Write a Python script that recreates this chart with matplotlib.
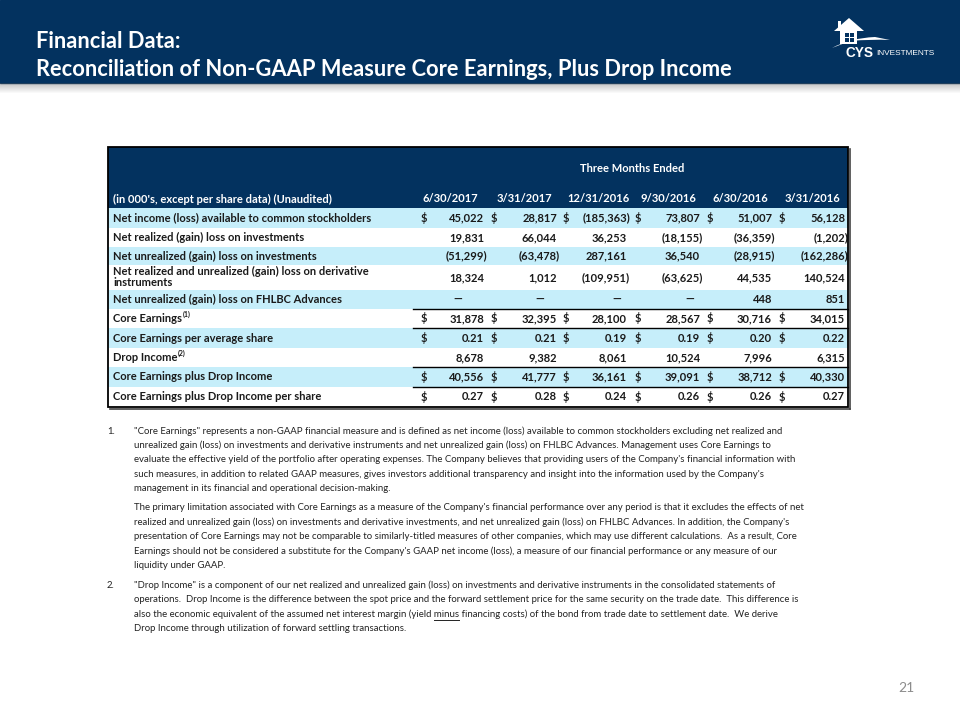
import matplotlib
matplotlib.use('Agg')
import matplotlib.pyplot as plt
from matplotlib.patches import Rectangle, Polygon, PathPatch
from matplotlib.path import Path

plt.rcParams['font.family'] = ['Lato', 'DejaVu Sans']

# ---- data ----
periods = ['6/30/2017', '3/31/2017', '12/31/2016', '9/30/2016', '6/30/2016', '3/31/2016']
row_labels = ['Net income (loss) available to common stockholders',
              'Net realized (gain) loss on investments',
              'Net unrealized (gain) loss on investments',
              'Net realized and unrealized (gain) loss on derivative\ninstruments',
              'Net unrealized (gain) loss on FHLBC Advances',
              'Core Earnings',
              'Core Earnings per average share',
              'Drop Income',
              'Core Earnings plus Drop Income',
              'Core Earnings plus Drop Income per share']
row_notes = ['', '', '', '', '', '(1)', '', '(2)', '', '']
net_income = [45022, 28817, -185363, 73807, 51007, 56128]
realized_inv = [19831, 66044, 36253, -18155, -36359, -1202]
unrealized_inv = [-51299, -63478, 287161, 36540, -28915, -162286]
derivatives = [18324, 1012, -109951, -63625, 44535, 140524]
fhlbc = [None, None, None, None, 448, 851]
core_earnings = [31878, 32395, 28100, 28567, 30716, 34015]
core_per_share = [0.21, 0.21, 0.19, 0.19, 0.20, 0.22]
drop_income = [8678, 9382, 8061, 10524, 7996, 6315]
core_plus_drop = [40556, 41777, 36161, 39091, 38712, 40330]
core_plus_drop_ps = [0.27, 0.28, 0.24, 0.26, 0.26, 0.27]
rows = [net_income, realized_inv, unrealized_inv, derivatives, fhlbc,
        core_earnings, core_per_share, drop_income, core_plus_drop, core_plus_drop_ps]
row_decimals = [0, 0, 0, 0, 0, 0, 2, 0, 0, 2]
row_dollar = [True, False, False, False, False, True, True, False, True, True]

fn1 = ['"Core Earnings" represents a non-GAAP financial measure and is defined as net income (loss) available to common stockholders excluding net realized and',
       'unrealized gain (loss) on investments and derivative instruments and net unrealized gain (loss) on FHLBC Advances. Management uses Core Earnings to',
       "evaluate the effective yield of the portfolio after operating expenses. The Company believes that providing users of the Company's financial information with",
       "such measures, in addition to related GAAP measures, gives investors additional transparency and insight into the information used by the Company's",
       'management in its financial and operational decision-making.']
fn1b = ["The primary limitation associated with Core Earnings as a measure of the Company's financial performance over any period is that it excludes the effects of net",
        "realized and unrealized gain (loss) on investments and derivative investments, and net unrealized gain (loss) on FHLBC Advances. In addition, the Company's",
        'presentation of Core Earnings may not be comparable to similarly-titled measures of other companies, which may use different calculations.  As a result, Core',
        "Earnings should not be considered a substitute for the Company's GAAP net income (loss), a measure of our financial performance or any measure of our",
        'liquidity under GAAP.']
fn2 = ['"Drop Income" is a component of our net realized and unrealized gain (loss) on investments and derivative instruments in the consolidated statements of',
       'operations.  Drop Income is the difference between the spot price and the forward settlement price for the same security on the trade date.  This difference is',
       'also the economic equivalent of the assumed net interest margin (yield minus financing costs) of the bond from trade date to settlement date.  We derive',
       'Drop Income through utilization of forward settling transactions.']

# ---- layout (pixels) ----
NAVY = '#03325f'
LIGHT = '#c6eefa'
TXT = '#1a1a1a'
tx0, tx1 = 108, 848
head_top, head_bot = 147, 208
row_edges = [208, 228, 247, 265, 290, 309, 328, 348, 367, 387, 407]
sep_rows = [5, 6, 8, 9]
date_x = [450, 524, 598, 668, 740, 812]
dollar_x = [424, 494, 566, 638, 710, 782]
right_x = [484, 557, 627, 700, 772, 845]
dash_x = [462, 544, 621, 694, 766, 838]

fig = plt.figure(figsize=(9.6, 7.2), dpi=100)
ax = fig.add_axes([0, 0, 1, 1])
ax.set_xlim(0, 960)
ax.set_ylim(720, 0)
ax.axis('off')
renderer = fig.canvas.get_renderer()


def text_width(s, size, **kw):
    t = ax.text(0, 0, s, fontsize=size, **kw)
    w = t.get_window_extent(renderer).width
    t.remove()
    return w


def fit_size(s, width, **kw):
    return 10 * width / text_width(s, 10, **kw)


# header band with shadow
ax.add_patch(Rectangle((0, 0), 960, 83, color=NAVY, zorder=1))
for i in range(10):
    ax.add_patch(Rectangle((0, 83 + i), 960, 1, color='#555555', alpha=0.35 * (1 - i / 10), lw=0))

title_size = fit_size('Reconciliation of Non-GAAP Measure Core Earnings, Plus Drop Income', 697, fontweight='bold')
ax.text(36, 42, 'Financial Data:', color='white', fontsize=title_size, fontweight='bold', va='center')
ax.text(36, 70, 'Reconciliation of Non-GAAP Measure Core Earnings, Plus Drop Income',
        color='white', fontsize=title_size, fontweight='bold', va='center')

# logo
ax.add_patch(Polygon([(834, 31), (849, 18), (864, 31)], color='white', lw=0, zorder=3))
ax.add_patch(Rectangle((838, 21), 3, 8, color='white', lw=0, zorder=3))
ax.add_patch(Rectangle((840, 30), 17, 14, color='white', lw=0, zorder=3))
for wx in (844.5, 849.5):
    for wy in (32.5, 37.5):
        ax.add_patch(Rectangle((wx, wy), 4, 4, color=NAVY, lw=0, zorder=4))
swoosh = Path([(832, 48), (850, 38), (875, 37), (890, 40), (872, 39), (850, 41), (832, 48)],
              [Path.MOVETO, Path.CURVE3, Path.CURVE3, Path.LINETO, Path.CURVE3, Path.CURVE3, Path.CLOSEPOLY])
ax.add_patch(PathPatch(swoosh, color='white', lw=0, zorder=3))
logo_font = ['Liberation Sans', 'DejaVu Sans']
cys_size = fit_size('CYS', 28, fontweight='bold', family=logo_font)
inv_size = fit_size('INVESTMENTS', 59, family=logo_font)
ax.text(845, 53, 'CYS', color='white', fontsize=cys_size, fontweight='bold', va='center', family=logo_font)
ax.text(876, 53.5, 'INVESTMENTS', color='white', fontsize=inv_size, va='center', family=logo_font)

# table
tsize = fit_size('Net income (loss) available to common stockholders', 257, fontweight='bold')
ax.add_patch(Rectangle((tx0, head_top), tx1 - tx0, head_bot - head_top, color=NAVY, lw=0, zorder=1))
ax.text(632, 168, 'Three Months Ended', color='white', fontsize=tsize, fontweight='bold', ha='center', va='center')
ax.text(113, 199, "(in 000's, except per share data) (Unaudited)", color='white', fontsize=tsize,
        fontweight='bold', va='center')
for x, p in zip(date_x, periods):
    ax.text(x, 199, p, color='white', fontsize=tsize, fontweight='bold', ha='center', va='center')


def fmt(v, dec):
    if v is None:
        return '\u2014'
    s = f'{abs(v):,.{dec}f}'
    return f'({s})' if v < 0 else s


paren_w = text_width(')', tsize, fontweight='bold')
for i, (label, vals) in enumerate(zip(row_labels, rows)):
    y0, y1 = row_edges[i], row_edges[i + 1]
    yc = (y0 + y1) / 2
    if i % 2 == 0:
        ax.add_patch(Rectangle((tx0, y0), tx1 - tx0, y1 - y0, color=LIGHT, lw=0, zorder=1))
    if '\n' in label:
        ax.text(113, yc - 0.5, label, color=TXT, fontsize=tsize, fontweight='bold', va='center', linespacing=0.95)
    else:
        ax.text(113, yc, label, color=TXT, fontsize=tsize, fontweight='bold', va='center')
    if row_notes[i]:
        lw_ = text_width(label, tsize, fontweight='bold')
        ax.text(113 + lw_ + 0.5, yc - 4, row_notes[i], color=TXT, fontsize=tsize * 0.62,
                fontweight='bold', va='center')
    for j, v in enumerate(vals):
        if row_dollar[i]:
            ax.text(dollar_x[j], yc, '$', color=TXT, fontsize=tsize, fontweight='bold', ha='center', va='center')
        if v is None:
            ax.text(dash_x[j], yc, fmt(v, 0), color=TXT, fontsize=tsize, fontweight='bold', ha='right', va='center')
        elif v < 0:
            ax.text(right_x[j] + paren_w, yc, fmt(v, row_decimals[i]), color=TXT, fontsize=tsize,
                    fontweight='bold', ha='right', va='center')
        else:
            ax.text(right_x[j], yc, fmt(v, row_decimals[i]), color=TXT, fontsize=tsize,
                    fontweight='bold', ha='right', va='center')
for i in sep_rows:
    ax.plot([413, tx1], [row_edges[i], row_edges[i]], color='black', lw=1.0, zorder=2)
ax.add_patch(Rectangle((tx0, head_top), tx1 - tx0, row_edges[-1] - head_top, fill=False,
                       edgecolor='black', lw=1.3, zorder=5))
ax.plot([tx1 + 1.5, tx1 + 1.5], [head_top + 2, row_edges[-1] + 1.5], color='#444444', lw=1.2, zorder=4)
ax.plot([tx0 + 2, tx1 + 1.5], [row_edges[-1] + 1.5, row_edges[-1] + 1.5], color='#444444', lw=1.2, zorder=4)

# footnotes
fsize = fit_size(fn1[0], 654)
FN = '#222222'
ax.text(107, 431, '1.', color=FN, fontsize=fsize, va='center')
y = 431
for line in fn1:
    ax.text(134, y, line, color=FN, fontsize=fsize, va='center')
    y += 14.4
y = 508
for line in fn1b:
    ax.text(134, y, line, color=FN, fontsize=fsize, va='center')
    y += 14.4
ax.text(107, 585, '2.', color=FN, fontsize=fsize, va='center')
y = 585
for line in fn2:
    ax.text(134, y, line, color=FN, fontsize=fsize, va='center')
    if 'yield minus' in line:
        pre = line.split('minus')[0]
        ux0 = 134 + text_width(pre, fsize)
        ux1 = ux0 + text_width('minus', fsize)
        ax.plot([ux0, ux1], [y + 6, y + 6], color=FN, lw=0.7)
    y += 14.4

ax.text(906, 688, '21', color='#8c8c8c', fontsize=10, ha='center', va='center')

fig.savefig('out.png', dpi=100, facecolor='white')
